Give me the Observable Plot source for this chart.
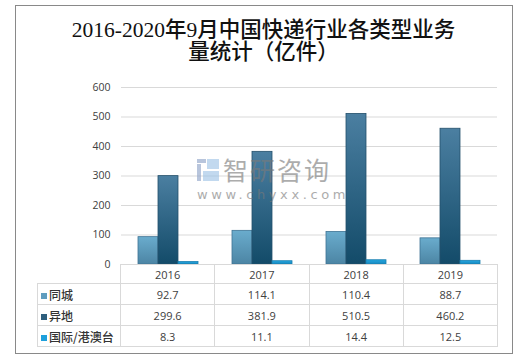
<!DOCTYPE html>
<html>
<head>
<meta charset="utf-8">
<script src="https://cdn.jsdelivr.net/npm/d3@7"></script>
<script src="https://cdn.jsdelivr.net/npm/@observablehq/plot@0.6"></script>
<style>
  html, body { margin: 0; padding: 0; background: #fff; }
  #wrap { position: relative; width: 530px; height: 363px; overflow: hidden; background: #fff; }
  #frame { position: absolute; left: 15px; top: 5px; width: 498px; height: 349px; box-sizing: border-box; border: 1px solid #898989; }
  #title { position: absolute; left: 15px; top: 19px; width: 497px; text-align: center;
    font-family: "Liberation Serif", "Noto Sans CJK SC", serif; font-size: 21.5px; line-height: 22px; color: #111; font-weight: 500; }
  #chart { position: absolute; left: 0; top: 0; }
  #table { position: absolute; left: 37px; top: 264px; border-collapse: collapse; table-layout: fixed;
    font-family: "Open Sans", "Noto Sans CJK SC", sans-serif; font-size: 11px; color: #404040; }
  #table td { border: 1px solid #d9d9d9; padding: 0; text-align: center; white-space: nowrap; overflow: hidden; }
  #table td.lab { text-align: left; padding-left: 3px; font-family: "Noto Sans CJK SC", sans-serif; font-size: 12px; font-weight: 500; color: #333; }
  #table td.corner { border-top: none; border-left: none; }
  .sw { display: inline-block; width: 6px; height: 6px; margin-right: 2px; vertical-align: 1px; }
  #wm { position: absolute; left: 197px; top: 157px; opacity: 0.62; pointer-events: none; }
  #wm .big { position: absolute; left: 26px; top: 0; font-family: "Noto Sans CJK SC", sans-serif; font-size: 25px; line-height: 25px; color: #7a7a7a; letter-spacing: 2px; white-space: nowrap; }
  #wm .small { position: absolute; left: 0; top: 30px; font-family: "DejaVu Sans", sans-serif; font-size: 13px; line-height: 15px; color: #7a7a7a; letter-spacing: 3.6px; white-space: nowrap; }
</style>
</head>
<body>
<svg width="0" height="0" style="position:absolute">
  <defs>
    <linearGradient id="g0" x1="0" y1="0" x2="0" y2="1">
      <stop offset="0" stop-color="#6aaccd"/>
      <stop offset="1" stop-color="#4c85a4"/>
    </linearGradient>
    <linearGradient id="g1" x1="0" y1="0" x2="0" y2="1">
      <stop offset="0" stop-color="#4b7fa1"/>
      <stop offset="1" stop-color="#134b69"/>
    </linearGradient>
    <linearGradient id="g2" x1="0" y1="0" x2="0" y2="1">
      <stop offset="0" stop-color="#25a6df"/>
      <stop offset="1" stop-color="#1788bf"/>
    </linearGradient>
  </defs>
</svg>
<div id="wrap">
  <div id="frame"></div>
  <div id="title"></div>
  <div id="chart"></div>
  <div id="wm">
    <svg width="22" height="22" style="position:absolute;left:0;top:2px">
      <rect x="0" y="0" width="9" height="4" fill="#8ea2c8"/>
      <rect x="0" y="5" width="4" height="17" fill="#8ea2c8"/>
      <rect x="10" y="0" width="12" height="10" fill="#9dc3e6"/>
      <rect x="6" y="12" width="16" height="10" fill="#9dc3e6"/>
    </svg>
    <div class="big">智研咨询</div>
    <div class="small">www.chyxx.com</div>
  </div>
  <table id="table"></table>
</div>
<script>
const titleLines = ["2016-2020年9月中国快递行业各类型业务", "量统计（亿件）"];
const years = ["2016", "2017", "2018", "2019"];
const seriesNames = ["同城", "异地", "国际/港澳台"];
const sameCity = [92.7, 114.1, 110.4, 88.7];
const interCity = [299.6, 381.9, 510.5, 460.2];
const international = [8.3, 11.1, 14.4, 12.5];
const yTicks = [0, 100, 200, 300, 400, 500, 600];

const seriesValues = [sameCity, interCity, international];
const seriesFill = ["url(#g0)", "url(#g1)", "url(#g2)"];
const seriesStroke = ["#3f7394", "#24506b", "#1a7fb0"];
const swatch = ["#5f9dbf", "#2f5f7d", "#1ea0dc"];

document.getElementById("title").innerHTML = titleLines.join("<br>");

const rows = [];
seriesNames.forEach((s, i) => years.forEach((y, j) => rows.push({series: s, year: y, value: seriesValues[i][j]})));

const chart = Plot.plot({
  width: 530,
  height: 270,
  marginTop: 87,
  marginBottom: 6,
  marginLeft: 120,
  marginRight: 33,
  style: {fontFamily: "'Open Sans', sans-serif", fontSize: "10.5px", color: "#404040", background: "transparent"},
  fx: {domain: years, padding: 0, axis: null, label: null},
  x: {domain: seriesNames, paddingInner: 0, paddingOuter: 0.74, axis: null, label: null},
  y: {domain: [0, 600], ticks: yTicks, tickSize: 0, tickPadding: 11, label: null, tickFormat: d => d},
  marks: [
    Plot.gridY(yTicks, {stroke: "#d9d9d9", strokeOpacity: 1}),
    ...seriesNames.map((s, i) => Plot.barY(rows.filter(d => d.series === s), {
      fx: "year", x: "series", y: "value",
      fill: seriesFill[i], stroke: seriesStroke[i], strokeWidth: 0.8
    }))
  ]
});
document.getElementById("chart").appendChild(chart);

// data table below the plot
const table = document.getElementById("table");
const colgroup = document.createElement("colgroup");
[83, 94.25, 94.25, 94.25, 94.25].forEach(w => { const c = document.createElement("col"); c.style.width = w + "px"; colgroup.appendChild(c); });
table.appendChild(colgroup);
const head = document.createElement("tr");
head.style.height = "19px";
const corner = document.createElement("td"); corner.className = "corner"; head.appendChild(corner);
years.forEach(y => { const td = document.createElement("td"); td.textContent = y; head.appendChild(td); });
table.appendChild(head);
seriesNames.forEach((s, i) => {
  const tr = document.createElement("tr");
  tr.style.height = "21px";
  const lab = document.createElement("td"); lab.className = "lab";
  const sw = document.createElement("span"); sw.className = "sw"; sw.style.background = swatch[i];
  lab.appendChild(sw); lab.appendChild(document.createTextNode(s));
  tr.appendChild(lab);
  seriesValues[i].forEach(v => { const td = document.createElement("td"); td.textContent = v.toFixed(1); tr.appendChild(td); });
  table.appendChild(tr);
});
</script>
</body>
</html>
